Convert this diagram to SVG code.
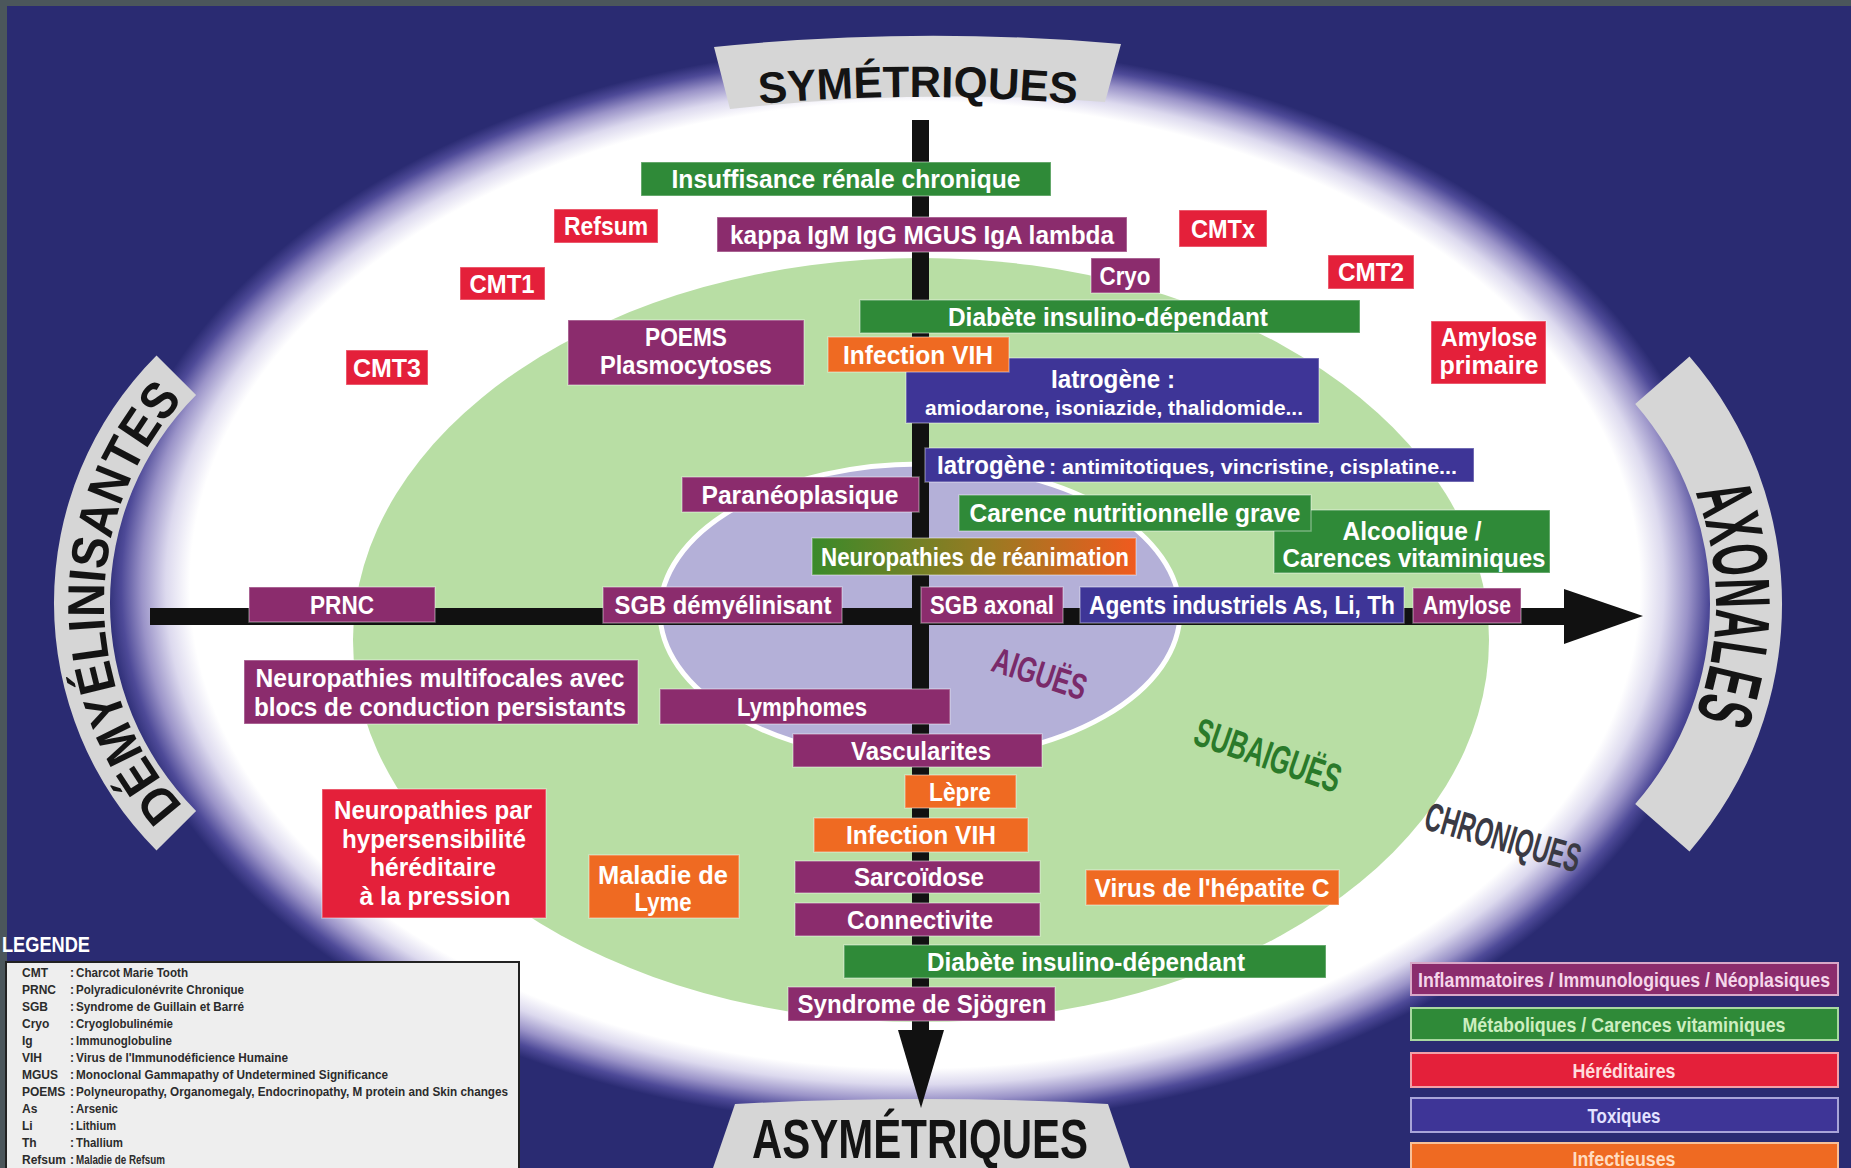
<svg xmlns="http://www.w3.org/2000/svg" width="1851" height="1168" viewBox="0 0 1851 1168">
<defs>
<radialGradient id="glow" cx="0.5" cy="0.5" r="0.5">
<stop offset="0" stop-color="#ffffff"/>
<stop offset="0.895" stop-color="#ffffff"/>
<stop offset="0.925" stop-color="#dcd9ee"/>
<stop offset="0.955" stop-color="#9a93c8"/>
<stop offset="0.98" stop-color="#4e4a98"/>
<stop offset="1" stop-color="#2a2b72"/>
</radialGradient>
<linearGradient id="rea" x1="0" y1="0" x2="1" y2="0">
<stop offset="0" stop-color="#3a8a2a"/>
<stop offset="0.55" stop-color="#9a7a22"/>
<stop offset="1" stop-color="#f05a1e"/>
</linearGradient>
<path id="pLeft" d="M 191.9 815.1 A 300 300 0 0 1 191.9 390.9"/>
<path id="pRight" d="M 1639.7 400 A 311 311 0 0 1 1639.7 808"/>
<path id="pTop" d="M 700 110 A 1836 1836 0 0 1 1136 110"/>
</defs>
<style>
.t{font-family:"Liberation Sans",Arial,sans-serif;font-weight:bold;fill:#ffffff;text-anchor:middle;font-size:26px}
.s20{font-size:20px}
.pu{fill:#8b2c6d}
.gr{fill:#2f8a38}
.rd{fill:#e4203a}
.or{fill:#ef6a22}
.bl{fill:#3e3597}
.bx{stroke:#ffffff;stroke-opacity:.35;stroke-width:1.5}
.lg{font-family:"Liberation Sans",Arial,sans-serif;font-weight:bold;font-size:12px;fill:#2b2b2b}
.ban{fill:#d6d6d6}
.bt{font-family:"Liberation Sans",Arial,sans-serif;font-weight:bold;fill:#141414;text-anchor:middle}
.zone{font-family:"Liberation Sans",Arial,sans-serif;font-weight:bold;text-anchor:middle}
.lk{font-family:"Liberation Sans",Arial,sans-serif;font-weight:bold;font-size:21px;text-anchor:middle}
</style>

<!-- background -->
<rect x="0" y="0" width="1851" height="1168" fill="#2a2b72"/>
<rect x="0" y="0" width="1851" height="6" fill="#4b565b"/>
<rect x="0" y="0" width="7" height="1168" fill="#4b565b"/>
<ellipse cx="915" cy="585" rx="810" ry="540" fill="url(#glow)"/>
<ellipse cx="921" cy="640" rx="568" ry="382" fill="#b8dea4"/>
<ellipse cx="920" cy="612" rx="260" ry="148" fill="#b4b0d8" stroke="#ffffff" stroke-width="5"/>

<!-- zone labels -->
<text class="zone" x="1040" y="686" font-size="36" fill="#7a2a6a" textLength="97" lengthAdjust="spacingAndGlyphs" transform="rotate(18 1040 673)">AIGUËS</text>
<text class="zone" x="1268" y="769" font-size="40" fill="#2a7a2a" textLength="152" lengthAdjust="spacingAndGlyphs" transform="rotate(19 1268 755)">SUBAIGUËS</text>
<text class="zone" x="1503" y="851" font-size="40" fill="#3a3a44" textLength="160" lengthAdjust="spacingAndGlyphs" transform="rotate(16 1503 837)">CHRONIQUES</text>

<!-- banners -->
<g id="banner-symetriques">
<path class="ban" d="M 714 47 Q 918 26 1121 44 L 1105 102 Q 918 88 730 109 Z"/>
<text class="bt" font-size="44"><textPath href="#pTop" startOffset="50%" textLength="318" lengthAdjust="spacingAndGlyphs">SYMÉTRIQUES</textPath></text>
</g>
<g id="banner-asymetriques">
<path class="ban" d="M 735 1104 Q 920 1094 1108 1104 L 1130 1168 L 713 1168 Z"/>
<text class="bt" x="920" y="1158" font-size="56" textLength="336" lengthAdjust="spacingAndGlyphs">ASYMÉTRIQUES</text>
</g>
<g id="banner-demyelinisantes">
<path class="ban" d="M 156.5 850.5 A 350 350 0 0 1 156.5 355.5 L 196.1 395.1 A 294 294 0 0 0 196.1 810.9 Z"/>
<text class="bt" font-size="52"><textPath href="#pLeft" startOffset="50%" textLength="446" lengthAdjust="spacingAndGlyphs">DÉMYÉLINISANTES</textPath></text>
</g>
<g id="banner-axonales">
<path class="ban" d="M 1689.5 356.6 A 377 377 0 0 1 1689.5 851.4 L 1635.2 804.1 A 305 305 0 0 0 1635.2 403.9 Z"/>
<text class="bt" font-size="78"><textPath href="#pRight" startOffset="50%" textLength="228" lengthAdjust="spacingAndGlyphs">AXONALES</textPath></text>
</g>

<!-- connectors (axes) -->
<g id="connectors">
<rect x="912" y="120" width="17" height="912" fill="#111111"/>
<polygon points="898,1030 944,1030 921,1108" fill="#111111"/>
<rect x="150" y="608" width="1416" height="17" fill="#111111"/>
<polygon points="1564,589 1643,616 1564,644" fill="#111111"/>
</g>

<!-- nodes -->
<g id="n-irc"><rect class="gr bx" x="641" y="162" width="410" height="34"/><text class="t" x="846" y="188" textLength="349" lengthAdjust="spacingAndGlyphs">Insuffisance rénale chronique</text></g>
<g id="n-refsum"><rect class="rd bx" x="554" y="209" width="104" height="34"/><text class="t" x="606" y="235" textLength="84" lengthAdjust="spacingAndGlyphs">Refsum</text></g>
<g id="n-kappa"><rect class="pu bx" x="717" y="217" width="410" height="35"/><text class="t" x="922" y="244" textLength="384" lengthAdjust="spacingAndGlyphs">kappa IgM IgG MGUS IgA lambda</text></g>
<g id="n-cmtx"><rect class="rd bx" x="1179" y="210" width="88" height="37"/><text class="t" x="1223" y="238" textLength="64" lengthAdjust="spacingAndGlyphs">CMTx</text></g>
<g id="n-cmt1"><rect class="rd bx" x="460" y="267" width="85" height="33"/><text class="t" x="502" y="293" textLength="65" lengthAdjust="spacingAndGlyphs">CMT1</text></g>
<g id="n-cryo"><rect class="pu bx" x="1091" y="258" width="69" height="35"/><text class="t" x="1125" y="285" textLength="51" lengthAdjust="spacingAndGlyphs">Cryo</text></g>
<g id="n-cmt2"><rect class="rd bx" x="1328" y="255" width="86" height="34"/><text class="t" x="1371" y="281" textLength="66" lengthAdjust="spacingAndGlyphs">CMT2</text></g>
<g id="n-diab1"><rect class="gr bx" x="860" y="300" width="500" height="33"/><text class="t" x="1108" y="326" textLength="320" lengthAdjust="spacingAndGlyphs">Diabète insulino-dépendant</text></g>
<g id="n-amylose-primaire"><rect class="rd bx" x="1431" y="321" width="115" height="63"/><text class="t" x="1489" y="346" textLength="96" lengthAdjust="spacingAndGlyphs">Amylose</text><text class="t" x="1489" y="374" textLength="99" lengthAdjust="spacingAndGlyphs">primaire</text></g>
<g id="n-poems"><rect class="pu bx" x="568" y="320" width="236" height="65"/><text class="t" x="686" y="346" textLength="82" lengthAdjust="spacingAndGlyphs">POEMS</text><text class="t" x="686" y="374" textLength="172" lengthAdjust="spacingAndGlyphs">Plasmocytoses</text></g>
<g id="n-iatro1"><rect class="bl bx" x="906" y="358" width="413" height="65"/><text class="t" x="1113" y="388" textLength="124" lengthAdjust="spacingAndGlyphs">Iatrogène :</text><text class="t s20" x="1114" y="415" textLength="378" lengthAdjust="spacingAndGlyphs">amiodarone, isoniazide, thalidomide...</text></g>
<g id="n-vih1"><rect class="or bx" x="828" y="337" width="181" height="35"/><text class="t" x="918" y="364" textLength="150" lengthAdjust="spacingAndGlyphs">Infection VIH</text></g>
<g id="n-cmt3"><rect class="rd bx" x="346" y="350" width="82" height="35"/><text class="t" x="387" y="377" textLength="68" lengthAdjust="spacingAndGlyphs">CMT3</text></g>
<g id="n-iatro2"><rect class="bl bx" x="925" y="448" width="549" height="34"/><text class="t" x="991" y="474" textLength="108" lengthAdjust="spacingAndGlyphs">Iatrogène</text><text class="t s20" x="1253" y="474" textLength="408" lengthAdjust="spacingAndGlyphs">: antimitotiques, vincristine, cisplatine...</text></g>
<g id="n-paraneo"><rect class="pu bx" x="682" y="477" width="237" height="35"/><text class="t" x="800" y="504" textLength="197" lengthAdjust="spacingAndGlyphs">Paranéoplasique</text></g>
<g id="n-alcool"><rect class="gr bx" x="1274" y="510" width="276" height="63"/><text class="t" x="1412" y="540" textLength="139" lengthAdjust="spacingAndGlyphs">Alcoolique /</text><text class="t" x="1414" y="567" textLength="263" lengthAdjust="spacingAndGlyphs">Carences vitaminiques</text></g>
<g id="n-carence"><rect class="gr bx" x="959" y="495" width="352" height="36"/><text class="t" x="1135" y="522" textLength="331" lengthAdjust="spacingAndGlyphs">Carence nutritionnelle grave</text></g>
<g id="n-reanim"><rect class="bx" fill="url(#rea)" x="812" y="538" width="324" height="37"/><text class="t" x="975" y="566" textLength="308" lengthAdjust="spacingAndGlyphs">Neuropathies de réanimation</text></g>
<g id="n-prnc"><rect class="pu bx" x="249" y="587" width="186" height="35"/><text class="t" x="342" y="614" textLength="64" lengthAdjust="spacingAndGlyphs">PRNC</text></g>
<g id="n-sgbd"><rect class="pu bx" x="603" y="587" width="239" height="36"/><text class="t" x="723" y="614" textLength="217" lengthAdjust="spacingAndGlyphs">SGB démyélinisant</text></g>
<g id="n-sgba"><rect class="pu bx" x="921" y="587" width="142" height="36"/><text class="t" x="992" y="614" textLength="124" lengthAdjust="spacingAndGlyphs">SGB axonal</text></g>
<g id="n-agents"><rect class="bl bx" x="1080" y="587" width="324" height="36"/><text class="t" x="1242" y="614" textLength="306" lengthAdjust="spacingAndGlyphs">Agents industriels As, Li, Th</text></g>
<g id="n-amylose"><rect class="pu bx" x="1413" y="588" width="108" height="35"/><text class="t" x="1467" y="614" textLength="88" lengthAdjust="spacingAndGlyphs">Amylose</text></g>
<g id="n-multifocal"><rect class="pu bx" x="244" y="660" width="394" height="64"/><text class="t" x="440" y="687" textLength="369" lengthAdjust="spacingAndGlyphs">Neuropathies multifocales avec</text><text class="t" x="440" y="716" textLength="372" lengthAdjust="spacingAndGlyphs">blocs de conduction persistants</text></g>
<g id="n-lymph"><rect class="pu bx" x="660" y="689" width="290" height="35"/><text class="t" x="802" y="716" textLength="130" lengthAdjust="spacingAndGlyphs">Lymphomes</text></g>
<g id="n-vasc"><rect class="pu bx" x="793" y="734" width="249" height="33"/><text class="t" x="921" y="760" textLength="140" lengthAdjust="spacingAndGlyphs">Vascularites</text></g>
<g id="n-lepre"><rect class="or bx" x="905" y="775" width="111" height="33"/><text class="t" x="960" y="801" textLength="62" lengthAdjust="spacingAndGlyphs">Lèpre</text></g>
<g id="n-hnpp"><rect class="rd bx" x="322" y="789" width="224" height="129"/><text class="t" x="433" y="819" textLength="198" lengthAdjust="spacingAndGlyphs">Neuropathies par</text><text class="t" x="434" y="848" textLength="184" lengthAdjust="spacingAndGlyphs">hypersensibilité</text><text class="t" x="433" y="876" textLength="126" lengthAdjust="spacingAndGlyphs">héréditaire</text><text class="t" x="435" y="905" textLength="151" lengthAdjust="spacingAndGlyphs">à la pression</text></g>
<g id="n-lyme"><rect class="or bx" x="589" y="855" width="150" height="63"/><text class="t" x="663" y="884" textLength="130" lengthAdjust="spacingAndGlyphs">Maladie de</text><text class="t" x="663" y="911" textLength="57" lengthAdjust="spacingAndGlyphs">Lyme</text></g>
<g id="n-vih2"><rect class="or bx" x="814" y="818" width="214" height="34"/><text class="t" x="921" y="844" textLength="150" lengthAdjust="spacingAndGlyphs">Infection VIH</text></g>
<g id="n-sarco"><rect class="pu bx" x="795" y="861" width="245" height="32"/><text class="t" x="919" y="886" textLength="130" lengthAdjust="spacingAndGlyphs">Sarcoïdose</text></g>
<g id="n-vhc"><rect class="or bx" x="1086" y="870" width="253" height="35"/><text class="t" x="1212" y="897" textLength="235" lengthAdjust="spacingAndGlyphs">Virus de l'hépatite C</text></g>
<g id="n-connect"><rect class="pu bx" x="795" y="903" width="245" height="33"/><text class="t" x="920" y="929" textLength="146" lengthAdjust="spacingAndGlyphs">Connectivite</text></g>
<g id="n-diab2"><rect class="gr bx" x="844" y="945" width="482" height="33"/><text class="t" x="1086" y="971" textLength="318" lengthAdjust="spacingAndGlyphs">Diabète insulino-dépendant</text></g>
<g id="n-sjogren"><rect class="pu bx" x="788" y="987" width="267" height="34"/><text class="t" x="922" y="1013" textLength="249" lengthAdjust="spacingAndGlyphs">Syndrome de Sjögren</text></g>

<!-- legend (abbreviations) -->
<g id="legend-abbr">
<text x="2" y="952" font-family="Liberation Sans, Arial, sans-serif" font-weight="bold" font-size="22" fill="#ffffff" textLength="88" lengthAdjust="spacingAndGlyphs">LEGENDE</text>
<rect x="6" y="962" width="513" height="212" fill="#eeeeee" stroke="#222222" stroke-width="2"/>
<g class="lg">
<text x="22" y="977">CMT</text><text x="70" y="977">:</text><text x="76" y="977" textLength="112" lengthAdjust="spacingAndGlyphs">Charcot Marie Tooth</text>
<text x="22" y="994">PRNC</text><text x="70" y="994">:</text><text x="76" y="994" textLength="168" lengthAdjust="spacingAndGlyphs">Polyradiculonévrite Chronique</text>
<text x="22" y="1011">SGB</text><text x="70" y="1011">:</text><text x="76" y="1011" textLength="168" lengthAdjust="spacingAndGlyphs">Syndrome de Guillain et Barré</text>
<text x="22" y="1028">Cryo</text><text x="70" y="1028">:</text><text x="76" y="1028" textLength="97" lengthAdjust="spacingAndGlyphs">Cryoglobulinémie</text>
<text x="22" y="1045">Ig</text><text x="70" y="1045">:</text><text x="76" y="1045" textLength="96" lengthAdjust="spacingAndGlyphs">Immunoglobuline</text>
<text x="22" y="1062">VIH</text><text x="70" y="1062">:</text><text x="76" y="1062" textLength="212" lengthAdjust="spacingAndGlyphs">Virus de l'Immunodéficience Humaine</text>
<text x="22" y="1079">MGUS</text><text x="70" y="1079">:</text><text x="76" y="1079" textLength="312" lengthAdjust="spacingAndGlyphs">Monoclonal Gammapathy of Undetermined Significance</text>
<text x="22" y="1096">POEMS</text><text x="70" y="1096">:</text><text x="76" y="1096" textLength="432" lengthAdjust="spacingAndGlyphs">Polyneuropathy, Organomegaly, Endocrinopathy, M protein and Skin changes</text>
<text x="22" y="1113">As</text><text x="70" y="1113">:</text><text x="76" y="1113" textLength="42" lengthAdjust="spacingAndGlyphs">Arsenic</text>
<text x="22" y="1130">Li</text><text x="70" y="1130">:</text><text x="76" y="1130" textLength="40" lengthAdjust="spacingAndGlyphs">Lithium</text>
<text x="22" y="1147">Th</text><text x="70" y="1147">:</text><text x="76" y="1147" textLength="47" lengthAdjust="spacingAndGlyphs">Thallium</text>
<text x="22" y="1164">Refsum</text><text x="70" y="1164">:</text><text x="76" y="1164" textLength="89" lengthAdjust="spacingAndGlyphs">Maladie de Refsum</text>
</g>
</g>

<!-- legend (colour key) -->
<g id="legend-key">
<g id="key-inflam"><rect class="pu" x="1411" y="963" width="427" height="32" stroke="#d8a8c8" stroke-width="2"/><text class="lk" x="1624" y="987" fill="#f5d6ea" textLength="412" lengthAdjust="spacingAndGlyphs">Inflammatoires / Immunologiques / Néoplasiques</text></g>
<g id="key-metab"><rect class="gr" x="1411" y="1008" width="427" height="32" stroke="#a8d8a0" stroke-width="2"/><text class="lk" x="1624" y="1032" fill="#cdeec0" textLength="323" lengthAdjust="spacingAndGlyphs">Métaboliques / Carences vitaminiques</text></g>
<g id="key-hered"><rect class="rd" x="1411" y="1053" width="427" height="34" stroke="#f0a0a8" stroke-width="2"/><text class="lk" x="1624" y="1078" fill="#ffdcdc" textLength="103" lengthAdjust="spacingAndGlyphs">Héréditaires</text></g>
<g id="key-tox"><rect class="bl" x="1411" y="1098" width="427" height="34" stroke="#a8a4d8" stroke-width="2"/><text class="lk" x="1624" y="1123" fill="#e4e2ff" textLength="73" lengthAdjust="spacingAndGlyphs">Toxiques</text></g>
<g id="key-infect"><rect class="or" x="1411" y="1143" width="427" height="34" stroke="#f8c098" stroke-width="2"/><text class="lk" x="1624" y="1166" fill="#ffdcc0" textLength="103" lengthAdjust="spacingAndGlyphs">Infectieuses</text></g>
</g>
</svg>
